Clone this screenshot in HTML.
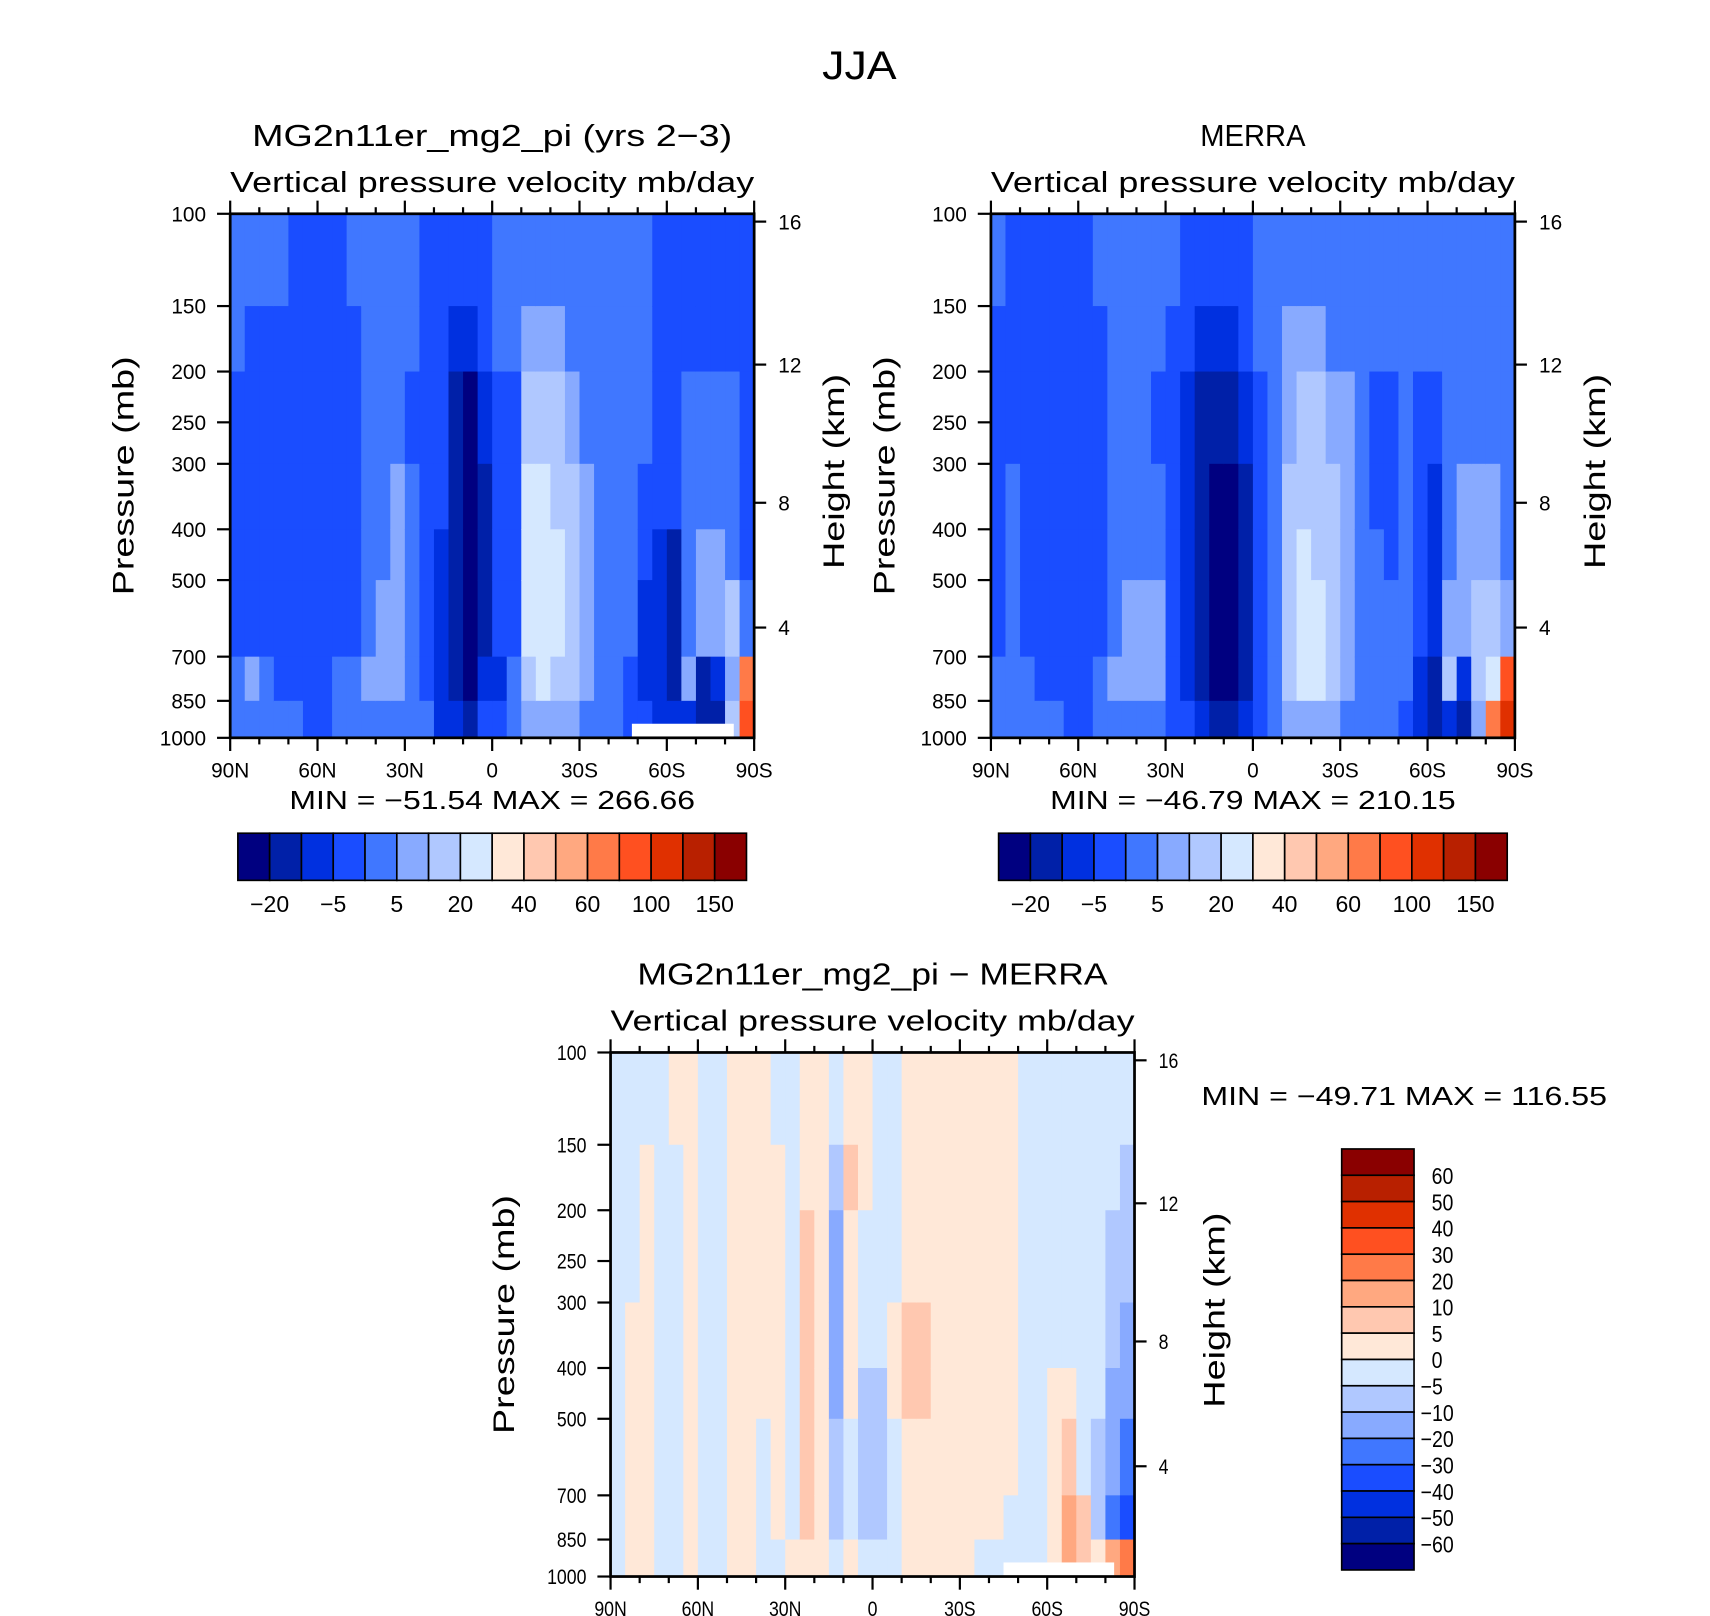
<!DOCTYPE html>
<html><head><meta charset="utf-8"><style>
html,body{margin:0;padding:0;background:#fff;}
svg{display:block;font-family:"Liberation Sans",sans-serif;}
</style></head><body>
<svg id="fig" width="1710" height="1616" viewBox="0 0 1560 1474" preserveAspectRatio="none" xmlns="http://www.w3.org/2000/svg"></svg>
<script>
// ---- data ----
const lats = [87.5,82.5,77.5,72.5,67.5,62.5,57.5,52.5,47.5,42.5,37.5,32.5,27.5,22.5,17.5,12.5,7.5,2.5,-2.5,-7.5,-12.5,-17.5,-22.5,-27.5,-32.5,-37.5,-42.5,-47.5,-52.5,-57.5,-62.5,-67.5,-72.5,-77.5,-82.5,-87.5];
const pEdges = [100,150,200,300,400,500,700,850,1000];
const topLevels = [-20,-10,-5,0,5,10,20,30,40,50,60,80,100,120,150];
const diffLevels = [-60,-50,-40,-30,-20,-10,-5,0,5,10,20,30,40,50,60];
const colors = ["#000080","#0020a8","#0030e0","#1a4dff","#4077ff","#88aaff","#b0c8ff","#d5e8ff","#ffe8d8","#ffc8b0","#ffa880","#ff7a48","#ff5020","#e03000","#b82000","#8a0000"];
const pressTicks = [100,150,200,250,300,400,500,700,850,1000];
const heightTicks = [16,12,8,4];
const heightPress = [103.5,194,356,616];
const latTicks = ["90N","60N","30N","0","30S","60S","90S"];
const topBarLabels = ["-20","-5","5","20","40","60","100","150"];
const diffBarLabels = ["60","50","40","30","20","10","5","0","-5","-10","-20","-30","-40","-50","-60"];
// columns (one per latitude), each with 8 pressure bands top->bottom
const modelOmega = [
[2,2,-2,-2,-2,-2,2,2],[2,-2,-2,-2,-2,-2,7,2],[2,-2,-2,-2,-2,-2,2,2],[2,-2,-2,-2,-2,-2,-2,2],
[-2,-2,-2,-2,-2,-2,-2,2],[-2,-2,-2,-2,-2,-2,-2,-2],[-2,-2,-2,-2,-2,-2,-2,-2],[-2,-2,-2,-2,-2,-2,2,2],
[2,-2,-2,-2,-2,-2,2,2],[2,2,2,2,2,2,7,2],[2,2,2,2,2,7,7,2],[2,2,2,7,7,7,7,2],
[2,2,-2,2,2,2,2,2],[-2,-2,-2,-2,-2,-2,-2,2],[-2,-2,-2,-2,-7,-7,-7,-7],[-2,-7,-15,-15,-15,-15,-15,-7],
[-2,-7,-30,-30,-30,-30,-30,-15],[-2,-2,-7,-15,-15,-15,-7,-2],[2,2,-2,-2,-2,-2,-7,-2],[2,2,-2,-2,-2,-2,2,2],
[2,7,15,25,25,25,15,7],[2,7,15,25,25,25,25,7],[2,7,15,15,25,25,15,7],[2,2,7,15,15,15,15,7],
[2,2,2,7,7,7,7,2],[2,2,2,2,2,2,2,2],[2,2,2,2,2,2,2,2],[2,2,2,2,2,2,-2,-2],
[2,2,2,-2,-2,-7,-7,-2],[-2,-2,-2,-2,-7,-7,-7,-7],[-2,-2,-2,-2,-15,-15,-15,-7],[-2,-2,2,2,2,2,7,-7],
[-2,-2,2,2,7,7,-15,-15],[-2,-2,2,2,7,7,-7,-15],[-2,-2,2,2,2,15,7,15],[-2,-2,-2,-2,-2,2,70,90]];
const merraOmega = [
[2,-2,-2,-2,-2,-2,2,2],[-2,-2,-2,2,2,2,2,2],[-2,-2,-2,-2,-2,-2,2,2],[-2,-2,-2,-2,-2,-2,-2,2],
[-2,-2,-2,-2,-2,-2,-2,2],[-2,-2,-2,-2,-2,-2,-2,-2],[-2,-2,-2,-2,-2,-2,-2,-2],[2,-2,-2,-2,-2,-2,2,2],
[2,2,2,2,2,2,7,2],[2,2,2,2,2,7,7,2],[2,2,2,2,2,7,7,2],[2,2,-2,2,2,7,7,2],
[2,-2,-2,-2,-2,-2,-2,-2],[-2,-2,-7,-7,-7,-7,-7,-2],[-2,-7,-15,-15,-15,-15,-15,-7],[-2,-7,-15,-30,-30,-30,-30,-15],
[-2,-7,-15,-30,-30,-30,-30,-15],[-2,-2,-7,-15,-15,-15,-15,-7],[2,2,-2,-2,-2,-2,-2,-2],[2,2,2,2,2,2,2,2],
[2,7,7,15,15,15,15,7],[2,7,15,15,25,25,25,7],[2,7,15,15,15,25,25,7],[2,2,7,15,15,15,15,7],
[2,2,7,7,7,7,7,2],[2,2,2,2,2,2,2,2],[2,2,-2,-2,2,2,2,2],[2,2,-2,-2,-2,2,2,2],
[2,2,2,2,2,2,2,-2],[2,2,-2,-2,-2,-2,-7,-7],[2,2,-2,-7,-7,-7,-15,-15],[2,2,2,2,2,7,15,-7],
[2,2,2,7,7,7,-7,-15],[2,2,2,7,7,15,15,7],[2,2,2,7,7,15,25,70],[2,2,2,2,2,7,90,110]];
const diffOmega = [
[-2,-2,-2,-2,-2,-2,-2,-2],[-2,-2,-2,2,2,2,2,2],[-2,2,2,2,2,2,2,2],[-2,-2,-2,-2,-2,-2,-2,-2],
[2,-2,-2,-2,-2,-2,-2,-2],[2,2,2,2,2,2,2,2],[-2,-2,-2,-2,-2,-2,-2,-2],[-2,-2,-2,-2,-2,-2,-2,-2],
[2,2,2,2,2,2,2,2],[2,2,2,2,2,2,2,2],[2,2,2,2,2,-2,-2,-2],[-2,2,2,2,2,2,2,-2],
[-2,-2,-2,-2,-2,-2,-2,2],[2,2,7,7,7,7,7,2],[2,2,2,2,2,2,2,2],[-2,-7,-15,-15,-15,-7,-7,-2],
[2,7,2,2,2,-2,-2,2],[2,2,-2,-2,-7,-7,-7,-2],[-2,-2,-2,-2,-7,-7,-7,-2],[-2,-2,-2,2,2,-2,-2,-2],
[2,2,2,7,7,2,2,2],[2,2,2,7,7,2,2,2],[2,2,2,2,2,2,2,2],[2,2,2,2,2,2,2,2],
[2,2,2,2,2,2,2,2],[2,2,2,2,2,2,2,-2],[2,2,2,2,2,2,2,-2],[2,2,2,2,2,2,-2,-2],
[-2,-2,-2,-2,-2,-2,-2,-2],[-2,-2,-2,-2,-2,-2,-2,-2],[-2,-2,-2,-2,2,2,2,2],[-2,-2,-2,-2,2,7,15,15],
[-2,-2,-2,-2,-2,-2,7,7],[-2,-2,-2,-2,-2,-7,-7,2],[-2,-2,-7,-7,-15,-15,-25,15],[-2,-7,-7,-15,-15,-25,-35,25]];

// ---- drawing ----
const NS = "http://www.w3.org/2000/svg";
const svg = document.getElementById("fig");
function mk(tag, attrs, parent) {
  const e = document.createElementNS(NS, tag);
  for (const k in attrs) e.setAttribute(k, attrs[k]);
  (parent || svg).appendChild(e);
  return e;
}
function txt(s, x, y, size, anchor, parent, extra) {
  const t = mk("text", Object.assign({x: x, y: y, "font-size": size, "text-anchor": anchor || "middle", fill: "#000"}, extra || {}), parent);
  t.textContent = s;
  return t;
}
function levelOf(v, lv) { let k = 0; for (const t of lv) if (v >= t) k++; return k; }
function sq(x, f) { return {transform: `translate(${x},0) scale(${f},1) translate(${-x},0)`}; }

const W = 478, H = 478;
function panel(ox, oy, data, lv, name, narrow, title, titleLen, missing) {
  const g = mk("g", {});
  
  
  const xS = lat => ox + (90 - lat) / 180 * W;
  const yS = p => oy + Math.log10(p / 100) * H;
  data.forEach((col, i) => {
    col.forEach((v, j) => {
      const r = mk("rect", {x: xS(lats[i] + 2.5), y: yS(pEdges[j]), width: xS(lats[i] - 2.5) - xS(lats[i] + 2.5) + 0.6,
        height: yS(pEdges[j + 1]) - yS(pEdges[j]) + 0.6, fill: colors[levelOf(v, lv)]}, g);
      
      
    });
  });
  if (missing) {
    const m = mk("rect", {x: xS(missing[0]), y: yS(missing[2]), width: xS(missing[1]) - xS(missing[0]), height: oy + H - yS(missing[2]), fill: "#fff"}, g);
    
    
  }
  const frame = mk("rect", {x: ox, y: oy, width: W, height: H, fill: "none", stroke: "#000", "stroke-width": 2.5}, g);
  
  
  const fs = 19;
  for (let lat = 90; lat >= -90; lat -= 10) {
    const x = xS(lat), major = lat % 30 === 0, len = major ? 12 : 6;
    mk("line", {x1: x, y1: oy, x2: x, y2: oy - len, stroke: "#000", "stroke-width": 2}, g);
    mk("line", {x1: x, y1: oy + H, x2: x, y2: oy + H + len, stroke: "#000", "stroke-width": 2}, g);
  }
  latTicks.forEach((s, i) => {
    const x = ox + i * W / 6;
    const t = txt(s, x, oy + H + 36, fs, "middle", g, narrow ? sq(x, 0.85) : {});
    
    
  });
  pressTicks.forEach(p => {
    const y = yS(p);
    mk("line", {x1: ox, y1: y, x2: ox - 12, y2: y, stroke: "#000", "stroke-width": 2}, g);
    const t = txt(String(p), ox - 22, y + 7, fs, "end", g, narrow ? sq(ox - 22, 0.85) : {});
    
    
  });
  heightTicks.forEach((h, i) => {
    const y = yS(heightPress[i]);
    mk("line", {x1: ox + W, y1: y, x2: ox + W + 11, y2: y, stroke: "#000", "stroke-width": 2}, g);
    const t = txt(String(h), ox + W + 22, y + 7, fs, "start", g, narrow ? sq(ox + W + 22, 0.85) : {});
    
    
  });
  const yl = txt("Pressure (mb)", 0, 0, 27, "middle", g, {transform: `translate(${ox - 88},${oy + H / 2}) rotate(-90)`, textLength: 218, lengthAdjust: "spacingAndGlyphs"});
  
  
  const yr = txt("Height (km)", 0, 0, 27, "middle", g, {transform: `translate(${ox + W + 82},${oy + H / 2 - 4}) rotate(-90)`, textLength: 178, lengthAdjust: "spacingAndGlyphs"});
  
  
  const tt = txt(title, ox + W / 2, oy - 62, 28, "middle", g, {textLength: titleLen, lengthAdjust: "spacingAndGlyphs"});
  
  
  const st = txt("Vertical pressure velocity   mb/day", ox + W / 2, oy - 20, 26, "middle", g, {textLength: W, lengthAdjust: "spacingAndGlyphs"});
  
  
}

const mainTitle = txt("JJA", 784, 72, 36, "middle", svg, {textLength: 68, lengthAdjust: "spacingAndGlyphs"});



panel(210, 195, modelOmega, topLevels, "model-panel", false, "MG2n11er_mg2_pi (yrs 2\u22123)", 438, [-48, -83, 940]);
panel(904, 195, merraOmega, topLevels, "merra-panel", false, "MERRA", 96, null);
panel(557, 960, diffOmega, diffLevels, "difference-panel", true, "MG2n11er_mg2_pi \u2212 MERRA", 429, [-45, -83, 940]);

function minmax(s, x, y, name) {
  const t = txt(s, x, y, 24, "middle", svg, {textLength: 370, lengthAdjust: "spacingAndGlyphs"});
  
  
}
minmax("MIN = \u221251.54   MAX = 266.66", 449, 738, "model-min-max");
minmax("MIN = \u221246.79   MAX = 210.15", 1143, 738, "merra-min-max");
minmax("MIN = \u221249.71   MAX = 116.55", 1281, 1008, "diff-min-max");

function hbar(x0, y0, name) {
  const g = mk("g", {});
  
  
  const bw = 29;
  colors.forEach((c, i) => {
    const r = mk("rect", {x: x0 + i * bw, y: y0, width: bw, height: 43, fill: c, stroke: "#000", "stroke-width": 1.5}, g);
    
    
  });
  topBarLabels.forEach((s, i) => {
    const t = txt(s.replace("-", "\u2212"), x0 + bw * (1 + 2 * i), y0 + 72, 21, "middle", g);
    
    
  });
}
hbar(217, 760, "model-colorbar");
hbar(911, 760, "merra-colorbar");

(function () {
  const g = mk("g", {});
  
  
  const x0 = 1224, y0 = 1048, bh = 24;
  colors.slice().reverse().forEach((c, i) => {
    const r = mk("rect", {x: x0, y: y0 + i * bh, width: 66, height: bh, fill: c, stroke: "#000", "stroke-width": 1.5}, g);
    
    
  });
  diffBarLabels.forEach((s, i) => {
    const lx = s.startsWith("-") ? 1296 : 1306;
    const t = txt(s.replace("-", "\u2212"), lx, y0 + bh * (i + 1) + 8, 21, "start", g, sq(lx, 0.85));
    
    
  });
})();
</script>
</body></html>
